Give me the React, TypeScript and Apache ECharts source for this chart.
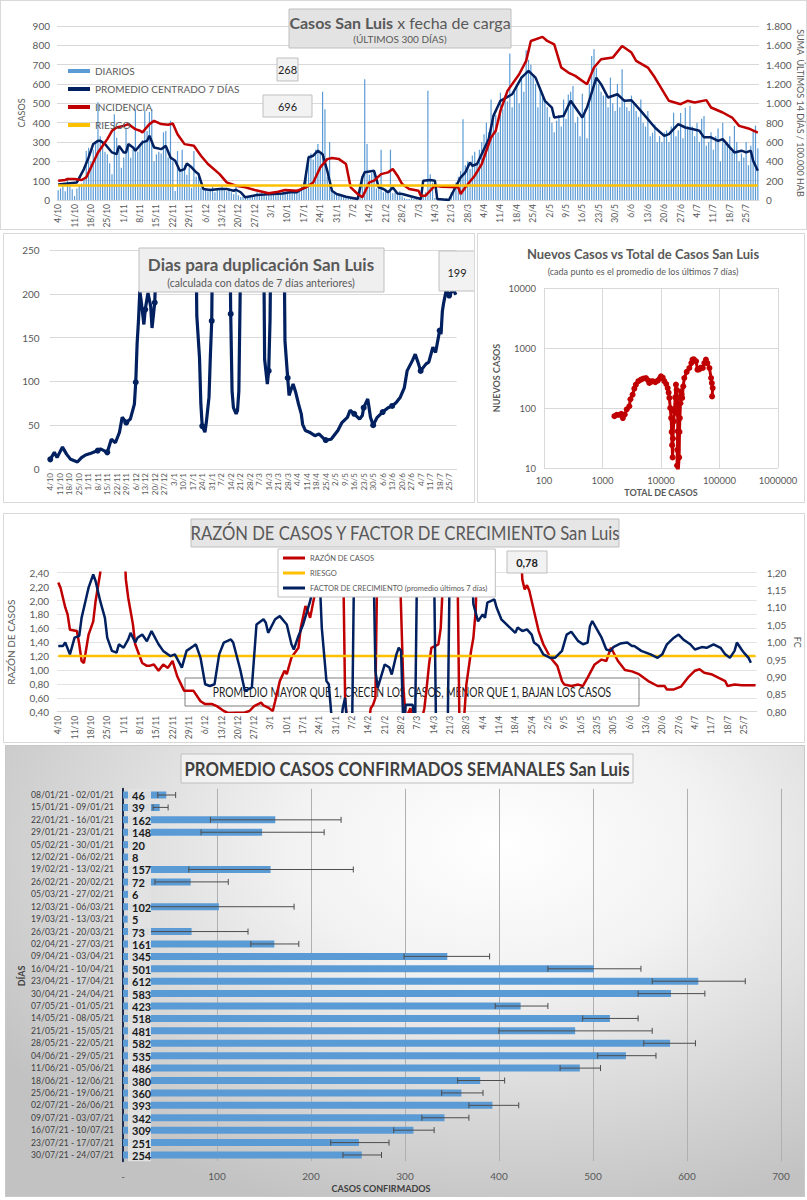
import React, { useEffect, useRef } from "react";
import * as echarts from "echarts";

const FONT = 'Lato, "Liberation Sans", Arial, sans-serif';
const AX = "#595959";
const GRIDC = "#d9d9d9";
const NAVY = "#002060";
const RED = "#c00000";
const YELLOW = "#ffc000";
const BLUE = "#5b9bd5";

// ---------- shared date axis (300 days, 4/10/2020 -> 30/7/2021) ----------
const N_DAYS = 300;
const WEEK_LABELS = ["4/10","11/10","18/10","25/10","1/11","8/11","15/11","22/11","29/11","6/12","13/12","20/12","27/12","3/1","10/1","17/1","24/1","31/1","7/2","14/2","21/2","28/2","7/3","14/3","21/3","28/3","4/4","11/4","18/4","25/4","2/5","9/5","16/5","23/5","30/5","6/6","13/6","20/6","27/6","4/7","11/7","18/7","25/7"];

// ---------- chart 1: casos diarios ----------
const DIARIOS = [
  50,60,80,45,115,70,55,20,60,75,
  85,110,253,270,200,260,300,505,330,300,
  250,236,190,133,443,322,260,167,220,374,
  279,219,260,469,250,290,310,460,357,455,
  469,200,236,250,240,350,357,220,410,200,
  47,253,150,260,180,130,170,64,253,120,
  140,64,50,55,45,60,70,40,55,60,
  75,50,45,60,40,30,70,25,15,20,
  10,15,25,20,30,40,25,35,30,20,
  35,40,30,25,45,35,50,40,55,45,
  35,40,45,55,80,90,150,230,240,210,
  260,290,250,560,470,120,300,60,40,30,
  30,25,20,15,20,10,5,15,10,60,
  120,625,290,130,140,150,60,70,260,40,
  60,50,260,35,40,30,45,20,10,5,
  5,10,5,10,0,5,20,40,565,133,
  90,10,0,5,0,5,10,0,40,60,
  90,120,150,418,180,200,160,230,250,190,
  260,300,340,400,350,520,420,440,350,555,
  470,540,510,758,480,560,600,500,640,560,
  775,725,700,640,600,480,580,550,520,480,
  430,400,350,410,440,380,520,420,546,560,
  590,400,430,330,550,470,320,600,745,780,
  684,600,560,540,540,480,633,500,460,600,
  480,676,520,480,460,540,500,460,430,520,
  400,380,460,330,348,390,300,330,300,350,
  360,300,380,452,330,360,450,320,477,380,
  486,380,330,400,300,420,434,280,300,350,
  260,330,370,200,400,290,300,330,250,383,
  300,200,240,220,300,180,280,355,385,268,
];
const PROMEDIO_7D = [
  [0,80],[8,91],[11,160],[13,220],[15,290],[17,306],[18,306],[20,290],[23,246],[25,237],[26,280],[28,246],[29,246],[30,289],[32,272],[33,255],[36,298],[38,306],[39,332],[41,272],[44,263],[46,280],[48,220],[50,203],[52,151],[54,160],[55,189],[57,169],[59,143],[60,134],[62,57],[65,52],[69,57],[72,57],[75,48],[76,53],[78,40],[80,14],[85,26],[88,28],[92,31],[96,34],[99,40],[102,40],[105,62],[107,220],[109,229],[111,255],[113,237],[115,151],[117,48],[119,31],[123,17],[128,5],[130,117],[131,143],[135,151],[137,65],[139,57],[141,40],[143,65],[145,34],[147,31],[155,5],[156,100],[159,103],[161,100],[162,5],[167,0],[169,48],[172,117],[174,143],[176,194],[177,177],[179,186],[182,263],[184,315],[186,435],[189,513],[194,547],[198,633],[201,668],[204,633],[208,513],[211,478],[212,427],[216,435],[219,513],[224,427],[226,478],[230,633],[232,599],[235,530],[239,547],[242,513],[245,516],[249,461],[255,375],[259,332],[261,341],[265,392],[268,375],[271,367],[274,358],[276,324],[279,324],[282,306],[284,315],[287,272],[289,246],[292,255],[294,246],[296,255],[297,203],[299,151],
];
const INCIDENCIA = [
  [0,200],[3,207],[4,217],[7,217],[10,207],[12,234],[14,337],[17,492],[21,630],[23,716],[25,750],[28,767],[30,785],[33,733],[35,716],[36,700],[39,785],[41,819],[44,785],[47,778],[49,792],[51,681],[54,578],[58,561],[61,458],[64,372],[69,268],[72,182],[76,148],[80,131],[84,103],[90,69],[94,86],[97,103],[102,96],[106,131],[109,182],[112,337],[115,423],[117,434],[120,423],[123,372],[125,131],[128,62],[130,28],[133,182],[135,200],[138,268],[141,286],[143,320],[145,251],[147,165],[150,114],[154,96],[155,45],[157,45],[161,148],[164,138],[171,131],[172,62],[174,131],[178,251],[181,372],[185,647],[187,716],[189,922],[192,1129],[197,1301],[200,1439],[202,1645],[207,1687],[209,1645],[212,1611],[215,1370],[218,1318],[221,1284],[226,1198],[229,1370],[232,1456],[237,1473],[241,1594],[245,1525],[247,1439],[252,1370],[255,1267],[261,1026],[266,991],[269,1026],[272,1008],[277,1033],[279,957],[284,905],[288,853],[291,767],[295,740],[299,696],
];
const RIESGO_INCIDENCIA = 150;

// ---------- chart 2: días para duplicación ----------
const DUPLICACION = [
  [0,11],[3,19],[5,13],[9,25],[12,17],[15,11],[20,8],[23,13],[26,16],[30,18],[35,21],[37,23],[42,19],[45,34],[48,30],[51,42],[53,59],[56,53],[59,57],[62,74],[63,99],[64,143],[65,169],[66,203],[67,192],[69,165],[70,182],[72,201],[74,186],[75,161],[77,190],[78,234],[79,320],[107,320],[108,175],[110,127],[111,74],[112,49],[114,42],[115,53],[117,82],[118,129],[119,169],[120,320],[132,320],[133,177],[134,89],[135,70],[137,63],[138,67],[139,89],[140,205],[141,320],[157,320],[158,125],[160,97],[161,112],[162,171],[163,320],[172,320],[173,146],[175,104],[176,84],[178,93],[179,97],[181,87],[183,74],[185,63],[186,51],[188,44],[191,42],[195,38],[198,40],[202,34],[203,33],[207,34],[209,38],[212,44],[215,53],[219,59],[221,67],[224,63],[228,57],[230,61],[231,70],[234,80],[235,70],[236,59],[238,50],[239,53],[241,59],[245,65],[249,70],[252,72],[255,76],[258,82],[261,93],[263,112],[267,124],[269,131],[271,122],[273,112],[277,120],[279,122],[282,139],[284,133],[287,158],[288,154],[289,180],[290,190],[292,205],[294,198],[297,205],[299,199],
];

// ---------- chart 3: nuevos casos vs total ----------
const NUEVOS_VS_TOTAL = [
  [1600,73],[1750,77],[1930,77],[2100,80],[2230,68],[2400,78],[2600,95],[2870,107],[3000,140],[3270,167],[3500,210],[3720,245],[4100,280],[4540,297],[5000,310],[5530,316],[6000,290],[6310,261],[6800,275],[7200,280],[8000,270],[8800,285],[9500,310],[10000,337],[10700,320],[11400,280],[12300,250],[13000,215],[13500,180],[13900,147],[14400,100],[14900,68],[15200,40],[15500,24],[15800,15],[16000,31],[16500,60],[16900,88],[17500,150],[18000,245],[18500,200],[19000,147],[19300,80],[19300,41],[19000,20],[18800,11],[19500,8],[20400,15],[20700,40],[21000,68],[21500,120],[21900,190],[22500,170],[23000,147],[24000,230],[25000,316],[27500,400],[30500,464],[33000,560],[34600,640],[36500,650],[39800,600],[42000,436],[45000,440],[48000,470],[51900,464],[55000,560],[58600,640],[62000,560],[67300,464],[71700,316],[74000,260],[76500,215],[74700,156],
];

// ---------- chart 4: razón de casos y factor de crecimiento ----------
const RAZON = [
  [0,2.26],[1,2.18],[3,1.9],[4,1.8],[5,1.58],[8,1.56],[9,1.37],[10,1.13],[11,1.1],[13,1.51],[15,1.7],[16,1.99],[18,2.4],[19,3],[28,3],[29,2.3],[30,2.04],[32,1.66],[33,1.37],[36,1.1],[38,1.06],[39,1.06],[41,1.08],[43,0.99],[45,1.08],[47,1.03],[49,1.13],[51,0.91],[54,0.7],[58,0.7],[61,0.55],[63,0.51],[66,0.51],[68,0.48],[71,0.41],[73,0.38],[80,0.39],[82,0.41],[84,0.48],[87,0.53],[88,0.49],[90,0.46],[92,0.41],[93,0.55],[95,0.84],[97,0.99],[98,0.94],[100,1.18],[103,1.32],[104,1.61],[106,1.92],[107,1.85],[108,1.75],[110,2.09],[111,3],[122,3],[123,0.6],[124,0.2],[133,0.2],[134,0.45],[135,0.5],[136,0.6],[137,3],[146,3],[148,0.75],[149,0.3],[151,0.45],[152,0.3],[156,0.3],[157,0.45],[158,0.75],[159,1.08],[160,1.32],[163,1.37],[164,1.6],[166,3],[171,3],[172,0.3],[174,0.3],[175,0.79],[177,1.27],[178,1.46],[179,1.85],[180,3],[198,3],[199,2.3],[200,2.16],[201,2.22],[202,2.14],[204,1.85],[206,1.56],[208,1.37],[211,1.18],[214,1.06],[216,0.84],[217,0.79],[220,0.77],[223,0.79],[225,0.77],[227,0.89],[230,1.08],[233,1.15],[235,1.13],[237,1.32],[240,1.13],[243,1.0],[246,0.98],[249,0.94],[253,0.84],[257,0.77],[260,0.77],[261,0.72],[264,0.72],[267,0.76],[270,0.89],[273,0.99],[275,1.01],[277,0.96],[280,0.94],[283,0.89],[286,0.84],[287,0.77],[290,0.79],[293,0.78],[296,0.78],[299,0.78],
];
const FACTOR_CRECIMIENTO = [
  [0,0.989],[2,0.989],[3,0.999],[5,0.965],[7,1.013],[9,1.018],[10,1.07],[12,1.128],[13,1.157],[15,1.195],[16,1.176],[18,1.118],[20,1.07],[21,1.013],[23,0.975],[25,0.97],[26,0.994],[28,0.984],[30,1.008],[31,1.027],[33,0.999],[34,1.013],[36,1.022],[38,1.003],[40,1.032],[43,0.994],[45,0.975],[48,0.96],[50,0.965],[53,0.927],[55,0.975],[58,0.989],[59,0.994],[61,0.955],[63,0.879],[65,0.874],[67,0.879],[69,0.965],[71,0.999],[74,1.008],[75,0.999],[78,0.922],[80,0.86],[83,0.869],[85,1.051],[88,1.066],[89,1.056],[90,1.027],[93,1.066],[95,1.075],[98,1.051],[100,0.994],[101,0.979],[103,1.018],[105,1.051],[108,1.118],[110,1.176],[112,1.2],[113,1.042],[115,0.888],[116,0.879],[117,0.8],[118,0.75],[121,0.75],[122,0.81],[123,0.84],[124,0.75],[126,0.75],[127,1.3],[135,1.3],[136,0.917],[137,0.869],[140,0.936],[142,0.927],[143,0.907],[145,0.965],[146,0.984],[147,0.975],[148,0.75],[149,0.82],[152,0.82],[153,0.75],[154,1.3],[161,1.3],[162,0.75],[167,0.75],[168,1.3],[177,1.3],[178,1.11],[180,1.06],[182,1.08],[183,1.07],[184,1.114],[187,1.123],[188,1.099],[190,1.066],[193,1.046],[196,1.027],[197,1.042],[199,1.032],[201,1.037],[203,1.022],[204,0.999],[206,0.989],[208,0.965],[211,0.955],[213,0.955],[216,0.975],[218,1.022],[220,1.03],[223,1.003],[225,0.994],[227,0.999],[228,1.046],[229,1.061],[231,1.037],[233,1.013],[235,0.979],[237,0.975],[238,0.986],[241,0.996],[244,0.999],[246,0.989],[247,0.989],[250,0.975],[254,0.965],[257,0.955],[259,0.965],[261,0.994],[264,1.013],[266,1.022],[268,1.008],[271,0.994],[273,0.979],[276,0.986],[278,0.984],[281,0.994],[284,0.984],[286,0.965],[288,0.955],[290,0.975],[291,0.999],[293,0.979],[294,0.97],[296,0.955],[297,0.941],
];
const RIESGO_RAZON = 1.2;

// ---------- chart 5: promedio semanal ----------
const SEMANAS = ["08/01/21 - 02/01/21","15/01/21 - 09/01/21","22/01/21 - 16/01/21","29/01/21 - 23/01/21","05/02/21 - 30/01/21","12/02/21 - 06/02/21","19/02/21 - 13/02/21","26/02/21 - 20/02/21","05/03/21 - 27/02/21","12/03/21 - 06/03/21","19/03/21 - 13/03/21","26/03/21 - 20/03/21","02/04/21 - 27/03/21","09/04/21 - 03/04/21","16/04/21 - 10/04/21","23/04/21 - 17/04/21","30/04/21 - 24/04/21","07/05/21 - 01/05/21","14/05/21 - 08/05/21","21/05/21 - 15/05/21","28/05/21 - 22/05/21","04/06/21 - 29/05/21","11/06/21 - 05/06/21","18/06/21 - 12/06/21","25/06/21 - 19/06/21","02/07/21 - 26/06/21","09/07/21 - 03/07/21","16/07/21 - 10/07/21","23/07/21 - 17/07/21","30/07/21 - 24/07/21"];
const PROMEDIO_SEMANAL = [46,39,162,148,20,8,157,72,6,102,5,73,161,345,501,612,583,423,518,481,582,535,486,380,360,393,342,309,251,254];
const ERR_LO = [37,32,93,83,17,null,70,34,null,22,null,26,136,299,452,563,548,396,489,400,554,505,465,356,339,368,318,288,221,234];
const ERR_HI = [56,48,232,214,24,null,245,112,null,182,null,133,187,390,551,662,619,452,548,563,609,567,508,406,383,421,368,331,283,275];

// ---------- helpers ----------
const dayCats = Array.from({ length: N_DAYS }, (_, i) => String(i));
const weekFmt = (_v: string, i: number) => WEEK_LABELS[i / 7] ?? "";
const thousands = (v: number) => String(v).replace(/\B(?=(\d{3})+(?!\d))/g, ".");
const comma2 = (v: number) => v.toFixed(2).replace(".", ",");

const box = (x: number, y: number, w: number, h: number, fill: string, stroke: string, z = 100) => ({
  type: "rect", z, shape: { x, y, width: w, height: h }, style: { fill, stroke, lineWidth: 1 },
});
const txt = (x: number, y: number, text: string, size: number, weight: string = "normal", color = AX, z = 101, extra: any = {}, sx = 1) => ({
  type: "text", z, x, y, scaleX: sx,
  style: { text, fill: color, fontSize: size, fontWeight: weight, fontFamily: FONT, align: "center", verticalAlign: "middle", ...extra },
});

const dateXAxis = (fontSize: number) => ({
  type: "category", data: dayCats, boundaryGap: true,
  axisLine: { show: true, lineStyle: { color: GRIDC } }, axisTick: { show: false },
  axisLabel: { interval: 6, rotate: 90, fontSize, color: AX, margin: 4, formatter: weekFmt, fontFamily: FONT },
  splitLine: { show: false },
});

// ---------- options ----------
const option1: any = {
  animation: false,
  textStyle: { fontFamily: FONT },
  grid: { left: 56, width: 702, top: 25, height: 174, outerBoundsMode: "none" },
  legend: {
    orient: "vertical", left: 62, top: 60, itemGap: 8, itemWidth: 22, itemHeight: 4, icon: "rect",
    textStyle: { fontSize: 10, color: AX, fontFamily: FONT },
    data: ["DIARIOS", "PROMEDIO CENTRADO 7 DÍAS", "INCIDENCIA", "RIESGO"],
  },
  xAxis: dateXAxis(8.5),
  yAxis: [
    {
      type: "value", min: 0, max: 900, interval: 100, name: "CASOS", nameLocation: "middle", nameGap: 31, nameMoveOverlap: false,
      nameTextStyle: { fontSize: 9, color: AX }, axisLabel: { fontSize: 10, color: AX, margin: 7 },
      splitLine: { lineStyle: { color: GRIDC } }, axisLine: { show: false }, axisTick: { show: false },
    },
    {
      type: "value", min: 0, max: 1800, interval: 200, position: "right", name: "SUMA  ÚLTIMOS 14 DÍAS / 100.000 HAB",
      nameLocation: "middle", nameRotate: -90, nameGap: 37, nameMoveOverlap: false, nameTextStyle: { fontSize: 9, color: AX },
      axisLabel: { fontSize: 10, color: AX, margin: 7, formatter: thousands },
      splitLine: { show: false }, axisLine: { show: false }, axisTick: { show: false },
    },
  ],
  series: [
    { name: "DIARIOS", type: "bar", data: DIARIOS, barWidth: 1.2, itemStyle: { color: BLUE } },
    { name: "PROMEDIO CENTRADO 7 DÍAS", type: "line", data: PROMEDIO_7D, showSymbol: false, lineStyle: { width: 2.5, color: NAVY }, itemStyle: { color: NAVY } },
    { name: "INCIDENCIA", type: "line", yAxisIndex: 1, data: INCIDENCIA, showSymbol: false, lineStyle: { width: 2.5, color: RED }, itemStyle: { color: RED } },
    { name: "RIESGO", type: "line", yAxisIndex: 1, data: [[0, RIESGO_INCIDENCIA], [N_DAYS - 1, RIESGO_INCIDENCIA]], showSymbol: false, lineStyle: { width: 2.5, color: YELLOW }, itemStyle: { color: YELLOW } },
  ],
  graphic: [
    box(288, 8, 222, 39, "#e3e3e3", "#bfbfbf"),
    txt(399, 21, "{b|Casos San Luis} x fecha de carga", 16, "normal", AX, 101, { rich: { b: { fontWeight: "bold", fontSize: 16, fill: AX, fontFamily: FONT } } }),
    txt(399, 38, "(ÚLTIMOS 300 DÍAS)", 10),
    box(276, 57, 21, 23, "#f2f2f2", "#bfbfbf"),
    txt(286.5, 68.5, "268", 11, "normal", "#222"),
    box(262, 94, 49, 22, "#f2f2f2", "#bfbfbf"),
    txt(286.5, 105, "696", 11, "normal", "#222"),
  ],
};

const option2: any = {
  animation: false,
  textStyle: { fontFamily: FONT },
  grid: { left: 45.6, width: 407, top: 16, height: 219, outerBoundsMode: "none" },
  xAxis: dateXAxis(8),
  yAxis: {
    type: "value", min: 0, max: 250, interval: 50, axisLabel: { fontSize: 10, color: AX, margin: 10 },
    splitLine: { lineStyle: { color: GRIDC } }, axisLine: { show: false }, axisTick: { show: false },
  },
  series: [
    { type: "line", data: DUPLICACION, symbol: "circle", symbolSize: 6, lineStyle: { width: 3.2, color: NAVY }, itemStyle: { color: NAVY } },
  ],
  graphic: [
    box(135, 14, 245, 44, "#efefef", "#bfbfbf"),
    txt(257, 30, "Dias para duplicación San Luis", 17, "bold"),
    txt(257, 49, "(calculada con datos de 7 días anteriores)", 10.5),
    box(435, 17, 36, 40, "#f2f2f2", "#bfbfbf"),
    txt(453, 38, "199", 11, "normal", "#222"),
  ],
};

const option3: any = {
  animation: false,
  textStyle: { fontFamily: FONT },
  grid: { left: 66, width: 234, top: 54, height: 180, outerBoundsMode: "none" },
  xAxis: {
    type: "log", logBase: 10, min: 100, max: 1000000, name: "TOTAL DE CASOS", nameLocation: "middle", nameGap: 20, nameMoveOverlap: false,
    nameTextStyle: { fontSize: 9, fontWeight: "bold", color: AX },
    axisLabel: { fontSize: 9.5, color: AX, margin: 7, formatter: (v: number) => String(Math.round(v)) },
    axisLine: { show: false }, axisTick: { show: false },
    splitLine: { show: true, lineStyle: { color: GRIDC } },
  },
  yAxis: {
    type: "log", logBase: 10, min: 10, max: 10000, name: "NUEVOS CASOS", nameLocation: "middle", nameGap: 43, nameMoveOverlap: false,
    nameTextStyle: { fontSize: 9, fontWeight: "bold", color: AX },
    axisLabel: { fontSize: 9.5, color: AX, margin: 8, formatter: (v: number) => String(Math.round(v)) },
    axisLine: { show: false }, axisTick: { show: false },
    splitLine: { show: true, lineStyle: { color: GRIDC } },
  },
  series: [
    { type: "line", data: NUEVOS_VS_TOTAL, symbol: "circle", symbolSize: 6, lineStyle: { width: 3, color: RED }, itemStyle: { color: RED } },
  ],
  graphic: [
    txt(165, 20, "Nuevos Casos vs Total de Casos San Luis", 13, "bold"),
    txt(165, 37, "(cada punto es el promedio de los últimos 7 días)", 9),
  ],
};

const option4: any = {
  animation: false,
  textStyle: { fontFamily: FONT },
  grid: { left: 53.1, width: 699.6, top: 58.7, height: 139, outerBoundsMode: "none" },
  legend: {
    orient: "vertical", left: 274, top: 35, itemGap: 7, itemWidth: 22, itemHeight: 3, icon: "rect",
    padding: [5, 8, 5, 5], backgroundColor: "#ffffff", borderColor: "#bfbfbf", borderWidth: 1,
    textStyle: { fontSize: 7.5, color: AX, fontFamily: FONT },
    data: ["RAZÓN DE CASOS", "RIESGO", "FACTOR DE CRECIMIENTO (promedio últimos 7 días)"],
  },
  xAxis: dateXAxis(8.5),
  yAxis: [
    {
      type: "value", min: 0.4, max: 2.4, interval: 0.2, name: "RAZÓN DE CASOS", nameLocation: "middle", nameGap: 41, nameMoveOverlap: false,
      nameTextStyle: { fontSize: 10, color: AX }, axisLabel: { fontSize: 10, color: AX, margin: 8, formatter: comma2 },
      splitLine: { lineStyle: { color: "#e3e3e3" } }, axisLine: { show: false }, axisTick: { show: false },
    },
    {
      type: "value", min: 0.8, max: 1.2, interval: 0.05, position: "right", name: "FC", nameLocation: "middle",
      nameRotate: -90, nameGap: 36, nameMoveOverlap: false, nameTextStyle: { fontSize: 9, color: AX },
      axisLabel: { fontSize: 10, color: AX, margin: 10, formatter: comma2 },
      splitLine: { show: false }, axisLine: { show: false }, axisTick: { show: false },
    },
  ],
  series: [
    { name: "RAZÓN DE CASOS", type: "line", data: RAZON, showSymbol: false, lineStyle: { width: 2.5, color: RED }, itemStyle: { color: RED } },
    { name: "RIESGO", type: "line", data: [[0, RIESGO_RAZON], [N_DAYS - 1, RIESGO_RAZON]], showSymbol: false, lineStyle: { width: 2.5, color: YELLOW }, itemStyle: { color: YELLOW } },
    { name: "FACTOR DE CRECIMIENTO (promedio últimos 7 días)", type: "line", yAxisIndex: 1, data: FACTOR_CRECIMIENTO, showSymbol: false, lineStyle: { width: 2.5, color: NAVY }, itemStyle: { color: NAVY } },
  ],
  graphic: [
    box(187, 5, 428, 28, "#e7e6e6", "#bfbfbf"),
    txt(401, 19.5, "RAZÓN DE CASOS Y FACTOR DE CRECIMIENTO San Luis", 18.5, "normal", AX, 101, {}, 0.9),
    box(503, 37, 40, 22, "#f2f2f2", "#bfbfbf"),
    txt(523, 48, "0,78", 11, "bold", "#222"),
    box(181, 164, 454, 28, "rgba(255,255,255,0.35)", "#7f7f7f", 1),
    txt(408, 178.5, "PROMEDIO MAYOR QUE 1, CRECEN LOS CASOS, MENOR QUE 1, BAJAN LOS CASOS", 12.5, "normal", "#1a1a1a", 1, {}, 0.82),
  ],
};

const errData = ERR_LO.map((lo, i) => (lo == null || ERR_HI[i] == null ? null : [lo, i, ERR_HI[i]])).filter((d) => d !== null);
const labelData = PROMEDIO_SEMANAL.map((v, i) => [v, i]);

const option5: any = {
  animation: false,
  textStyle: { fontFamily: FONT },
  grid: { left: 117, width: 658, top: 42.8, height: 372.4, outerBoundsMode: "none" },
  xAxis: {
    type: "value", min: 0, max: 700, interval: 100,
    axisLabel: { fontSize: 10, color: AX, margin: 10, formatter: (v: number) => (v === 0 ? "-" : String(v)) },
    splitLine: { show: true, lineStyle: { color: "#b0b0b0" } }, axisLine: { show: false }, axisTick: { show: false },
  },
  yAxis: {
    type: "category", data: SEMANAS, inverse: true,
    axisLabel: { fontSize: 8.6, color: "#404040", margin: 9, interval: 0 },
    axisLine: { show: true, lineStyle: { color: "#1f2f4f", width: 2 } }, axisTick: { show: false },
  },
  series: [
    { type: "bar", data: PROMEDIO_SEMANAL, barWidth: 7, itemStyle: { color: BLUE } },
    {
      type: "custom", data: errData, encode: { x: [0, 2], y: 1 }, z: 5,
      renderItem: (_p: any, api: any) => {
        const cat = api.value(1);
        const a = api.coord([api.value(0), cat]);
        const b = api.coord([api.value(2), cat]);
        const st = { stroke: "#4d4d4d", lineWidth: 1 };
        return {
          type: "group",
          children: [
            { type: "line", shape: { x1: a[0], y1: a[1], x2: b[0], y2: b[1] }, style: st },
            { type: "line", shape: { x1: a[0], y1: a[1] - 3, x2: a[0], y2: a[1] + 3 }, style: st },
            { type: "line", shape: { x1: b[0], y1: b[1] - 3, x2: b[0], y2: b[1] + 3 }, style: st },
          ],
        };
      },
    },
    {
      type: "custom", data: labelData, encode: { x: 0, y: 1 }, z: 10,
      renderItem: (_p: any, api: any) => {
        const c = api.coord([0, api.value(1)]);
        return {
          type: "group",
          children: [
            { type: "rect", shape: { x: c[0] + 5, y: c[1] - 6.3, width: 23, height: 12.6 }, style: { fill: "rgba(226,226,226,0.95)" } },
            { type: "text", x: c[0] + 9, y: c[1] + 0.5, style: { text: String(api.value(0)), fill: "#1a1a1a", fontSize: 11, fontWeight: "bold", fontFamily: FONT, align: "left", verticalAlign: "middle" } },
          ],
        };
      },
    },
  ],
  graphic: [
    box(175, 8, 452, 29, "rgba(250,250,250,0.6)", "#bfbfbf"),
    txt(401, 23, "PROMEDIO CASOS CONFIRMADOS SEMANALES San Luis", 19, "bold", "#404040", 101, {}, 0.88),
    txt(375, 442, "CASOS CONFIRMADOS", 9, "bold", "#404040"),
    { ...txt(15, 230, "DÍAS", 9, "bold", "#404040"), rotation: Math.PI / 2 },
  ],
};

function EChart({ option, style }: { option: any; style: React.CSSProperties }) {
  const ref = useRef<HTMLDivElement>(null);
  useEffect(() => {
    const chart = echarts.init(ref.current as HTMLDivElement, null, { renderer: "svg" });
    chart.setOption(option);
    return () => chart.dispose();
  }, [option]);
  return <div ref={ref} style={{ position: "absolute", boxSizing: "border-box", ...style }} />;
}

export default function App() {
  const panel = "1px solid #d9d9d9";
  return (
    <div style={{ position: "absolute", left: 0, top: 0, width: 807, height: 1200, background: "#ffffff", overflow: "hidden" }}>
      <EChart option={option1} style={{ left: 0, top: 0, width: 807, height: 230, border: panel }} />
      <EChart option={option2} style={{ left: 3, top: 233, width: 472, height: 270, border: panel }} />
      <EChart option={option3} style={{ left: 477, top: 233, width: 328, height: 270, border: panel }} />
      <EChart option={option4} style={{ left: 3, top: 513, width: 802, height: 230, border: panel }} />
      <EChart
        option={option5}
        style={{ left: 5, top: 745, width: 800, height: 452, border: "1px solid #c8c8c8",
          background: "radial-gradient(ellipse 75% 85% at 62% 22%, #ffffff 0%, #f2f2f2 35%, #d4d4d4 75%, #c2c2c2 100%)" }}
      />
    </div>
  );
}
